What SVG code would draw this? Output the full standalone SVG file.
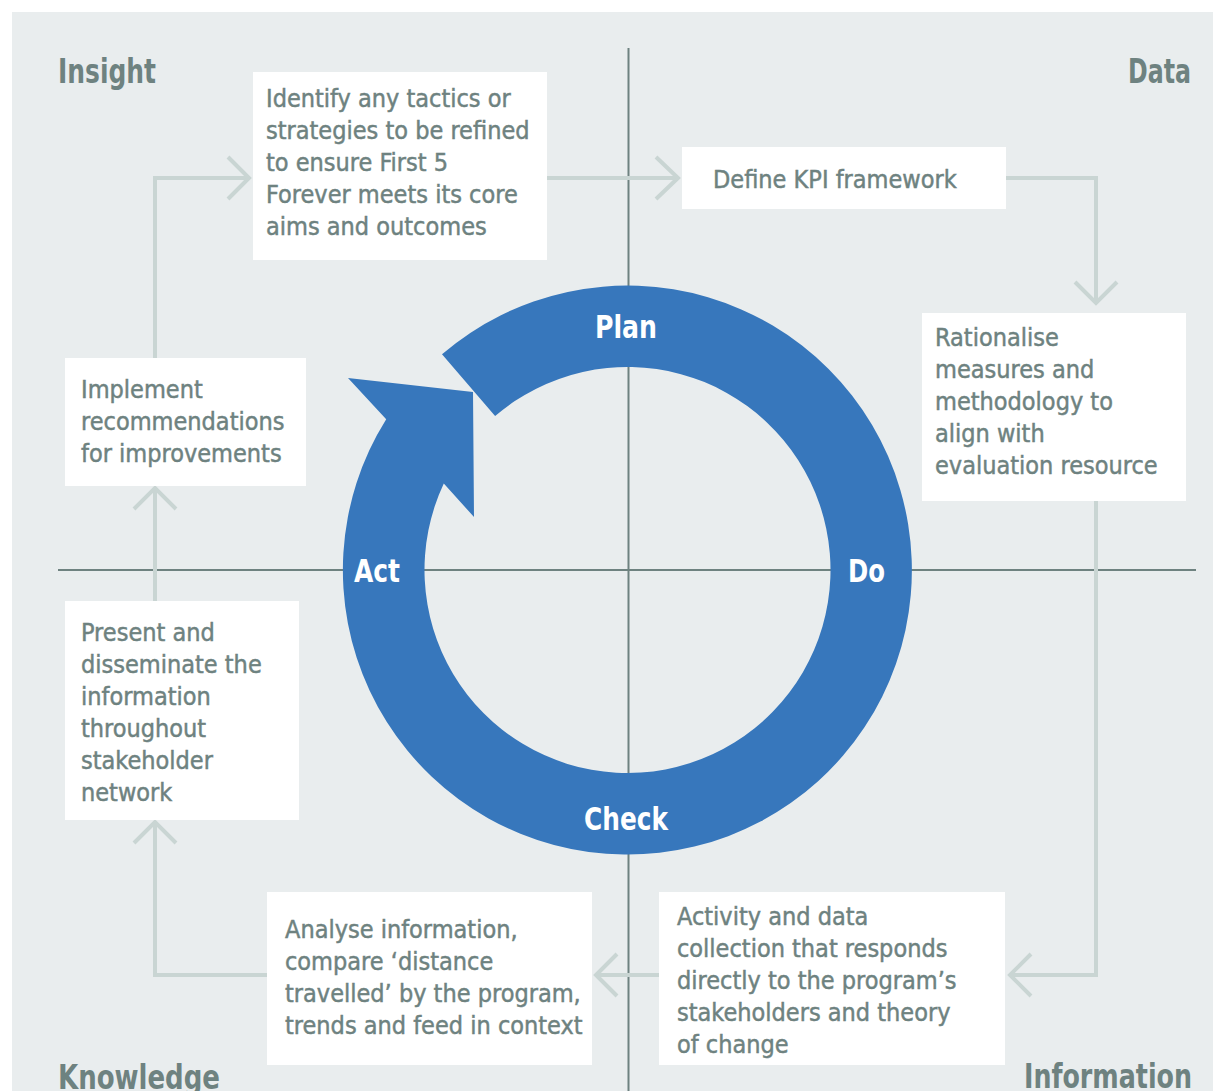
<svg xmlns="http://www.w3.org/2000/svg" width="1213" height="1091" viewBox="0 0 1213 1091">
<style>
.bg{fill:#e9edee}
.box{fill:#ffffff}
.axis{stroke:#6e8280;stroke-width:2;fill:none}
.conn{stroke:#c9d5d3;stroke-width:4;fill:none}
.t{font-family:"Liberation Sans Narrow","DejaVu Sans Condensed","Liberation Sans",sans-serif;font-size:25px;fill:#6e8280;stroke:#6e8280;stroke-width:0.45}
.q{font-family:"Liberation Sans Narrow","DejaVu Sans Condensed","Liberation Sans",sans-serif;font-size:34px;font-weight:bold;fill:#6e8280}
.w{font-family:"Liberation Sans Narrow","DejaVu Sans Condensed","Liberation Sans",sans-serif;font-size:32px;font-weight:bold;fill:#ffffff}
</style>
<rect class="bg" x="12" y="12" width="1201" height="1079"/>
<g id="axes">
<line class="axis" x1="628.5" y1="48" x2="628.5" y2="1091"/>
<line class="axis" x1="58" y1="570" x2="1196" y2="570"/>
</g>
<g id="quadrant-labels">
<text class="q" x="58" y="83" textLength="98" lengthAdjust="spacingAndGlyphs">Insight</text>
<text class="q" x="1128" y="83" textLength="63" lengthAdjust="spacingAndGlyphs">Data</text>
<text class="q" x="58" y="1089" textLength="162" lengthAdjust="spacingAndGlyphs">Knowledge</text>
<text class="q" x="1024" y="1088" textLength="168" lengthAdjust="spacingAndGlyphs">Information</text>
</g>
<g id="connectors">
<polyline class="conn" points="547,178 678,178"/>
<polyline class="conn" points="656,157 678,178 656,199"/>
<polyline class="conn" points="1006,178 1096,178 1096,303"/>
<polyline class="conn" points="1075,282 1096,303 1117,282"/>
<polyline class="conn" points="1096,501 1096,975 1010,975"/>
<polyline class="conn" points="1031,954 1010,975 1031,996"/>
<polyline class="conn" points="659,975 596,975"/>
<polyline class="conn" points="617,954 596,975 617,996"/>
<polyline class="conn" points="267,975 155,975 155,822"/>
<polyline class="conn" points="134,843 155,822 176,843"/>
<polyline class="conn" points="155,601 155,488"/>
<polyline class="conn" points="134,509 155,488 176,509"/>
<polyline class="conn" points="155,358 155,178 249,178"/>
<polyline class="conn" points="228,157 249,178 228,199"/>
</g>
<g id="cycle">
<path fill="#3777bc" d="M442,354.3 A284.5,284.5 0 1 1 386.2,419.2 L348,378 L473,392 L474,517 L443.8,483.6 A203,203 0 1 0 495.1,416.1 Z"/>
<text class="w" x="595" y="338" textLength="62" lengthAdjust="spacingAndGlyphs">Plan</text>
<text class="w" x="848" y="582" textLength="37" lengthAdjust="spacingAndGlyphs">Do</text>
<text class="w" x="584" y="830" textLength="84" lengthAdjust="spacingAndGlyphs">Check</text>
<text class="w" x="354" y="582" textLength="46" lengthAdjust="spacingAndGlyphs">Act</text>
</g>
<g id="node-identify">
<rect class="box" x="253" y="72" width="294" height="188"/>
<text class="t" x="266" y="107">Identify any tactics or</text>
<text class="t" x="266" y="139">strategies to be refined</text>
<text class="t" x="266" y="171">to ensure First 5</text>
<text class="t" x="266" y="203">Forever meets its core</text>
<text class="t" x="266" y="235">aims and outcomes</text>
</g>
<g id="node-define">
<rect class="box" x="682" y="147" width="324" height="62"/>
<text class="t" x="713" y="188">Define KPI framework</text>
</g>
<g id="node-rationalise">
<rect class="box" x="922" y="313" width="264" height="188"/>
<text class="t" x="935" y="346">Rationalise</text>
<text class="t" x="935" y="378">measures and</text>
<text class="t" x="935" y="410">methodology to</text>
<text class="t" x="935" y="442">align with</text>
<text class="t" x="935" y="474">evaluation resource</text>
</g>
<g id="node-activity">
<rect class="box" x="659" y="892" width="346" height="173"/>
<text class="t" x="677" y="925">Activity and data</text>
<text class="t" x="677" y="957">collection that responds</text>
<text class="t" x="677" y="989">directly to the program’s</text>
<text class="t" x="677" y="1021">stakeholders and theory</text>
<text class="t" x="677" y="1053">of change</text>
</g>
<g id="node-analyse">
<rect class="box" x="267" y="892" width="325" height="173"/>
<text class="t" x="285" y="938">Analyse information,</text>
<text class="t" x="285" y="970">compare ‘distance</text>
<text class="t" x="285" y="1002">travelled’ by the program,</text>
<text class="t" x="285" y="1034">trends and feed in context</text>
</g>
<g id="node-present">
<rect class="box" x="65" y="601" width="234" height="219"/>
<text class="t" x="81" y="641">Present and</text>
<text class="t" x="81" y="673">disseminate the</text>
<text class="t" x="81" y="705">information</text>
<text class="t" x="81" y="737">throughout</text>
<text class="t" x="81" y="769">stakeholder</text>
<text class="t" x="81" y="801">network</text>
</g>
<g id="node-implement">
<rect class="box" x="65" y="358" width="241" height="128"/>
<text class="t" x="81" y="398">Implement</text>
<text class="t" x="81" y="430">recommendations</text>
<text class="t" x="81" y="462">for improvements</text>
</g>
</svg>
